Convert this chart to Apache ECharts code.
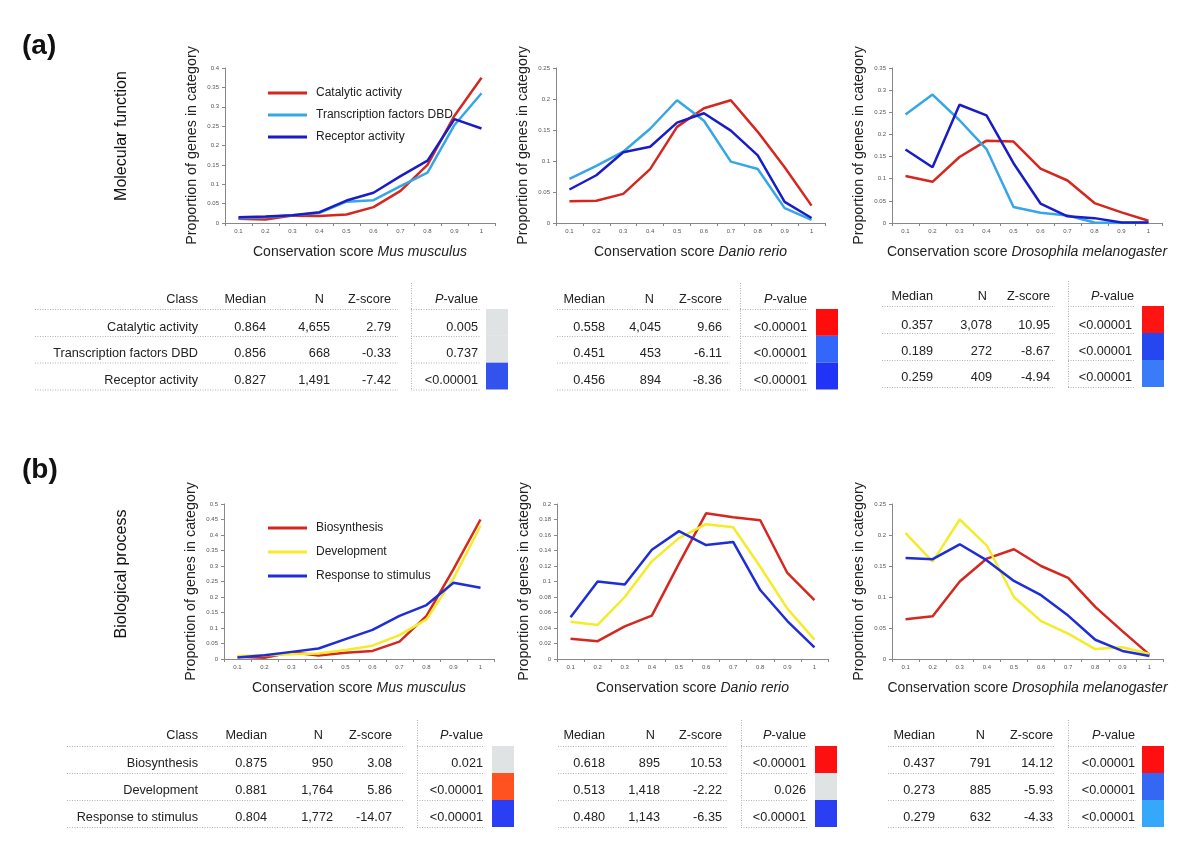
<!DOCTYPE html>
<html><head><meta charset="utf-8">
<script src="https://cdn.jsdelivr.net/npm/echarts@6/dist/echarts.min.js"></script>
<style>html,body{margin:0;padding:0;background:#fff}#c{width:1200px;height:853px}</style>
</head><body><div id="c"></div>
<script>
// ---------- DATA ----------
const categories = ['0.1','0.2','0.3','0.4','0.5','0.6','0.7','0.8','0.9','1'];
const species = ['Mus musculus','Danio rerio','Drosophila melanogaster'];
const mfNames = ['Catalytic activity','Transcription factors DBD','Receptor activity'];
const bpNames = ['Biosynthesis','Development','Response to stimulus'];

// Molecular function
const mfMusCatalytic = [0.011,0.009,0.019,0.018,0.022,0.041,0.083,0.150,0.277,0.375];
const mfMusTF        = [0.012,0.015,0.020,0.026,0.055,0.059,0.095,0.130,0.253,0.335];
const mfMusReceptor  = [0.015,0.017,0.020,0.028,0.058,0.078,0.121,0.161,0.268,0.244];
const mfDanioCatalytic = [0.035,0.036,0.047,0.087,0.155,0.185,0.198,0.147,0.090,0.028];
const mfDanioTF        = [0.071,0.092,0.115,0.152,0.198,0.165,0.099,0.087,0.024,0.005];
const mfDanioReceptor  = [0.054,0.077,0.114,0.123,0.162,0.177,0.149,0.109,0.034,0.008];
const mfDrosoCatalytic = [0.106,0.093,0.149,0.186,0.184,0.123,0.096,0.045,0.024,0.005];
const mfDrosoTF        = [0.245,0.290,0.232,0.167,0.036,0.023,0.017,0.001,0.000,0.000];
const mfDrosoReceptor  = [0.166,0.126,0.267,0.243,0.135,0.044,0.015,0.011,0.001,0.001];
// Biological process
const bpMusBio   = [0.007,0.004,0.022,0.011,0.020,0.026,0.056,0.139,0.290,0.450];
const bpMusDev   = [0.010,0.012,0.015,0.018,0.029,0.043,0.077,0.128,0.260,0.430];
const bpMusResp  = [0.005,0.012,0.023,0.034,0.064,0.094,0.139,0.174,0.246,0.230];
const bpDanioBio  = [0.026,0.023,0.042,0.056,0.123,0.188,0.183,0.179,0.111,0.076];
const bpDanioDev  = [0.048,0.044,0.080,0.126,0.156,0.174,0.170,0.119,0.065,0.025];
const bpDanioResp = [0.054,0.100,0.096,0.141,0.165,0.147,0.151,0.089,0.049,0.015];
const bpDrosoBio  = [0.064,0.069,0.125,0.162,0.177,0.150,0.131,0.084,0.045,0.007];
const bpDrosoDev  = [0.203,0.157,0.225,0.183,0.100,0.061,0.041,0.016,0.019,0.008];
const bpDrosoResp = [0.163,0.161,0.185,0.159,0.126,0.103,0.070,0.031,0.013,0.005];

// y-axis ranges (tick labels)
const yMax = [0.4, 0.25, 0.35, 0.5, 0.2, 0.25];
const yInterval = [0.05, 0.05, 0.05, 0.05, 0.02, 0.05];

// Tables
const tableHeaders = ['Class','Median','N','Z-score','P-value'];
const mfMusRows   = [['0.864','4,655','2.79','0.005'],['0.856','668','-0.33','0.737'],['0.827','1,491','-7.42','<0.00001']];
const mfDanioRows = [['0.558','4,045','9.66','<0.00001'],['0.451','453','-6.11','<0.00001'],['0.456','894','-8.36','<0.00001']];
const mfDrosoRows = [['0.357','3,078','10.95','<0.00001'],['0.189','272','-8.67','<0.00001'],['0.259','409','-4.94','<0.00001']];
const bpMusRows   = [['0.875','950','3.08','0.021'],['0.881','1,764','5.86','<0.00001'],['0.804','1,772','-14.07','<0.00001']];
const bpDanioRows = [['0.618','895','10.53','<0.00001'],['0.513','1,418','-2.22','0.026'],['0.480','1,143','-6.35','<0.00001']];
const bpDrosoRows = [['0.437','791','14.12','<0.00001'],['0.273','885','-5.93','<0.00001'],['0.279','632','-4.33','<0.00001']];

// ---------- STYLE / LAYOUT ----------
const RED='#d4281f', LBLUE='#36a6e6', DBLUE='#1a1dc6', YELLOW='#f4ec2a', BLUE='#1e2dd6';
const GRAY='#e0e3e3';
const FONT='"Liberation Sans", Arial, Helvetica, sans-serif';
const grids = [
  {left:225, top:68, width:270, height:155},
  {left:556, top:68, width:269, height:155},
  {left:892, top:68, width:270, height:155},
  {left:224, top:504, width:270, height:155},
  {left:557, top:504, width:271, height:155},
  {left:892, top:504, width:271, height:155}
];
const seriesSets = [
  [[mfNames[0],mfMusCatalytic,RED],[mfNames[1],mfMusTF,LBLUE],[mfNames[2],mfMusReceptor,DBLUE]],
  [[mfNames[0],mfDanioCatalytic,RED],[mfNames[1],mfDanioTF,LBLUE],[mfNames[2],mfDanioReceptor,DBLUE]],
  [[mfNames[0],mfDrosoCatalytic,RED],[mfNames[1],mfDrosoTF,LBLUE],[mfNames[2],mfDrosoReceptor,DBLUE]],
  [[bpNames[0],bpMusBio,RED],[bpNames[1],bpMusDev,YELLOW],[bpNames[2],bpMusResp,BLUE]],
  [[bpNames[0],bpDanioBio,RED],[bpNames[1],bpDanioDev,YELLOW],[bpNames[2],bpDanioResp,BLUE]],
  [[bpNames[0],bpDrosoBio,RED],[bpNames[1],bpDrosoDev,YELLOW],[bpNames[2],bpDrosoResp,BLUE]]
];

const xAxes = [], yAxes = [], series = [];
grids.forEach((g,i)=>{
  xAxes.push({
    type:'category', gridIndex:i, data:categories, boundaryGap:true,
    name:'{a|Conservation score }{b|'+species[i%3]+'}',
    nameLocation:'middle', nameGap:22,
    nameTextStyle:{rich:{a:{fontSize:14,color:'#222',fontFamily:FONT},b:{fontSize:14,color:'#222',fontStyle:'italic',fontFamily:FONT}}},
    axisLine:{show:true,lineStyle:{color:'#888',width:1}},
    axisTick:{show:true,length:3,lineStyle:{color:'#888'}},
    axisLabel:{fontSize:6,color:'#555',margin:5,fontFamily:FONT},
    splitLine:{show:false}
  });
  yAxes.push({
    type:'value', gridIndex:i, min:0, max:yMax[i], interval:yInterval[i],
    name:'Proportion of genes in category', nameLocation:'middle', nameGap:26,
    nameTextStyle:{fontSize:14.3,color:'#222',fontFamily:FONT},
    axisLine:{show:true,lineStyle:{color:'#888',width:1}},
    axisTick:{show:true,length:3,lineStyle:{color:'#888'}},
    axisLabel:{fontSize:6,color:'#555',margin:6,fontFamily:FONT,
      formatter:v=>String(Math.round(v*100)/100)},
    splitLine:{show:false}
  });
  seriesSets[i].forEach(s=>{
    series.push({type:'line', name:s[0], xAxisIndex:i, yAxisIndex:i, data:s[1],
      showSymbol:false, symbol:'none', lineStyle:{color:s[2],width:2.5}, itemStyle:{color:s[2]},
      emphasis:{disabled:true}, animation:false});
  });
});

// ---------- TABLES ----------
const TFONT = '12.7px '+FONT;
function txt(s,x,y,align){
  return {type:'text', silent:true, style:{text:s, x:x, y:y, font:TFONT, fill:'#222',
    textAlign:align||'right', align:align||'right', textVerticalAlign:'middle', verticalAlign:'middle'}};
}
function dline(x1,y1,x2,y2){
  return {type:'line', silent:true, shape:{x1:x1,y1:y1,x2:x2,y2:y2},
    style:{stroke:'#b0b0b0', lineWidth:1, lineDash:[1,1.5]}};
}
function table(t){
  const els=[];
  const hy=t.hy;
  if(t.classes) els.push(txt(tableHeaders[0],t.classX,hy));
  els.push(txt(tableHeaders[1],t.medX,hy));
  els.push(txt(tableHeaders[2],t.nHX,hy));
  els.push(txt(tableHeaders[3],t.zX,hy));
  els.push({type:'text', silent:true, style:{text:'{i|P}{n|-value}', x:t.pHX, y:hy,
    textAlign:'right', align:'right', textVerticalAlign:'middle', verticalAlign:'middle',
    rich:{i:{fontStyle:'italic',fontSize:12.7,fontFamily:FONT,fill:'#222',color:'#222'},
          n:{fontSize:12.7,fontFamily:FONT,fill:'#222',color:'#222'}}}});
  t.rows.forEach((r,k)=>{
    const y=t.ry[k];
    if(t.classes) els.push(txt(t.classes[k],t.classX,y));
    els.push(txt(r[0],t.medX,y));
    els.push(txt(r[1],t.nX,y));
    els.push(txt(r[2],t.zX,y));
    els.push(txt(r[3],t.pX,y));
  });
  t.ly.forEach(y=>{
    els.push(dline(t.lineL[0],y+0.5,t.lineL[1],y+0.5));
    els.push(dline(t.lineR[0],y+0.5,t.lineR[1],y+0.5));
  });
  els.push(dline(t.vX+0.5,t.vY[0],t.vX+0.5,t.vY[1]));
  const bh=(t.ly[3]-t.ly[0])/3;
  t.colors.forEach((c,k)=>{
    els.push({type:'rect', silent:true, shape:{x:t.boxX, y:t.ly[0]+k*bh, width:22, height:bh}, style:{fill:c}});
  });
  return els;
}
const aY = {hy:299, ry:[327,353.5,380], ly:[309,336,362.5,389.5], vY:[283,390]};
const aY3 = {hy:296, ry:[325,351,377], ly:[306,333,360,387], vY:[281,388]};
const bY = {hy:735, ry:[763,790,817], ly:[746,773,800,827], vY:[720,828]};
const tables = [
  Object.assign({classes:mfNames, rows:mfMusRows, classX:198, medX:266, nHX:324, nX:330, zX:391, pHX:478, pX:478,
    boxX:486, lineL:[35,398], lineR:[411,480], vX:411, colors:[GRAY,GRAY,'#3253ee']}, aY),
  Object.assign({rows:mfDanioRows, medX:605, nHX:654, nX:661, zX:722, pHX:807, pX:807,
    boxX:816, lineL:[557,730], lineR:[740,808], vX:740, colors:['#ff0d0d','#3366fa','#2233f8']}, aY),
  Object.assign({rows:mfDrosoRows, medX:933, nHX:987, nX:992, zX:1050, pHX:1134, pX:1132,
    boxX:1142, lineL:[882,1055], lineR:[1068,1135], vX:1068, colors:['#ff1414','#2447f0','#3a7cf8']}, aY3),
  Object.assign({classes:bpNames, rows:bpMusRows, classX:198, medX:267, nHX:323, nX:333, zX:392, pHX:483, pX:483,
    boxX:492, lineL:[67,403], lineR:[417,484], vX:417, colors:[GRAY,'#ff5220','#2a3ff4']}, bY),
  Object.assign({rows:bpDanioRows, medX:605, nHX:655, nX:660, zX:722, pHX:806, pX:806,
    boxX:815, lineL:[558,728], lineR:[741,807], vX:741, colors:['#ff1010',GRAY,'#2a3ff4']}, bY),
  Object.assign({rows:bpDrosoRows, medX:935, nHX:985, nX:991, zX:1053, pHX:1135, pX:1135,
    boxX:1142, lineL:[888,1054], lineR:[1068,1136], vX:1068, colors:['#ff1010','#3468f4','#36a8fa']}, bY)
];
let graphics = [];
tables.forEach(t=>{ graphics = graphics.concat(table(t)); });
graphics.push({type:'text', silent:true, style:{text:'(a)', x:22, y:46, font:'bold 28px '+FONT, fill:'#111', textVerticalAlign:'middle', verticalAlign:'middle'}});
graphics.push({type:'text', silent:true, style:{text:'(b)', x:22, y:470, font:'bold 28px '+FONT, fill:'#111', textVerticalAlign:'middle', verticalAlign:'middle'}});
graphics.push({type:'text', silent:true, x:122, y:136, rotation:Math.PI/2, style:{text:'Molecular function', x:0, y:0, font:'16px '+FONT, fill:'#111', textAlign:'center', align:'center', textVerticalAlign:'middle', verticalAlign:'middle'}});
graphics.push({type:'text', silent:true, x:122, y:574, rotation:Math.PI/2, style:{text:'Biological process', x:0, y:0, font:'16px '+FONT, fill:'#111', textAlign:'center', align:'center', textVerticalAlign:'middle', verticalAlign:'middle'}});

const legendCommon = {orient:'vertical', left:263, icon:'rect', itemWidth:39, itemHeight:3,
  selectedMode:false, textStyle:{fontSize:12, color:'#222', fontFamily:FONT, lineHeight:14, padding:[0,0,0,4]}};
const option = {
  backgroundColor:'#fff', animation:false,
  textStyle:{fontFamily:FONT},
  grid:grids, xAxis:xAxes, yAxis:yAxes, series:series,
  legend:[
    Object.assign({data:mfNames, top:81, itemGap:8}, legendCommon),
    Object.assign({data:bpNames, top:516, itemGap:10}, legendCommon)
  ],
  graphic:graphics
};
const chart = echarts.init(document.getElementById('c'), null, {renderer:'canvas'});
chart.setOption(option);
</script></body></html>
